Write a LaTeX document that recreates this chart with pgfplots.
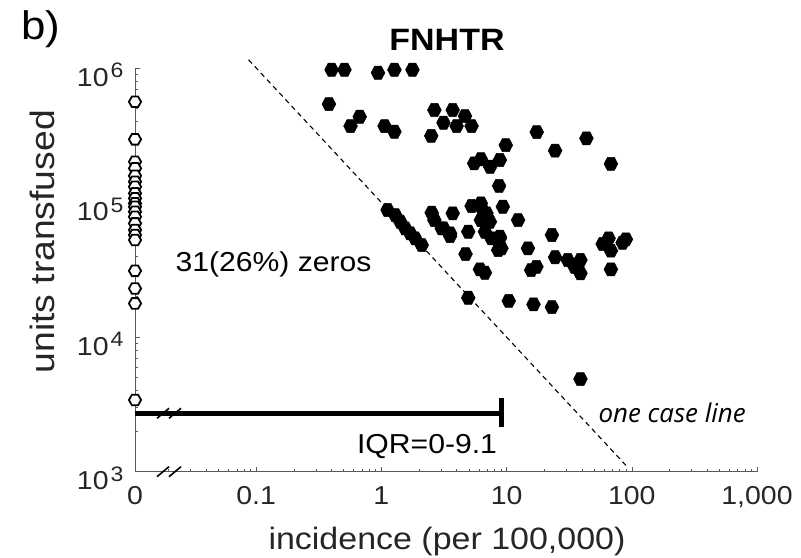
\documentclass[border=0pt]{standalone}
\usepackage{fontspec}
\setmainfont{Liberation Sans}[FakeStretch=1.1]
\newfontfamily\opensans{Open Sans}
\usepackage{pgfplots}
\pgfplotsset{compat=1.18}
\usepackage{pgfplotstable}

\definecolor{axgray}{RGB}{38,38,38}

% hexagon markers, pointed left and right
\pgfdeclareplotmark{hexf}{%
  \pgfpathmoveto{\pgfpoint{\pgfplotmarksize}{0pt}}%
  \pgfpathlineto{\pgfpoint{0.5\pgfplotmarksize}{0.95\pgfplotmarksize}}%
  \pgfpathlineto{\pgfpoint{-0.5\pgfplotmarksize}{0.95\pgfplotmarksize}}%
  \pgfpathlineto{\pgfpoint{-\pgfplotmarksize}{0pt}}%
  \pgfpathlineto{\pgfpoint{-0.5\pgfplotmarksize}{-0.95\pgfplotmarksize}}%
  \pgfpathlineto{\pgfpoint{0.5\pgfplotmarksize}{-0.95\pgfplotmarksize}}%
  \pgfpathclose
  \pgfusepathqfillstroke}
\pgfdeclareplotmark{hexo}{%
  \pgfpathmoveto{\pgfpoint{\pgfplotmarksize}{0pt}}%
  \pgfpathlineto{\pgfpoint{0.5\pgfplotmarksize}{0.866\pgfplotmarksize}}%
  \pgfpathlineto{\pgfpoint{-0.5\pgfplotmarksize}{0.866\pgfplotmarksize}}%
  \pgfpathlineto{\pgfpoint{-\pgfplotmarksize}{0pt}}%
  \pgfpathlineto{\pgfpoint{-0.5\pgfplotmarksize}{-0.866\pgfplotmarksize}}%
  \pgfpathlineto{\pgfpoint{0.5\pgfplotmarksize}{-0.866\pgfplotmarksize}}%
  \pgfpathclose
  \pgfusepathqfillstroke}

% hospitals with at least one case: incidence (per 100,000), units transfused
\pgfplotstableread{
x y
0.400 970000
0.507 970000
0.939 921000
1.27 970000
1.77 970000
0.381 539000
0.671 434000
0.567 370000
1.06 370000
1.27 336000
2.65 487000
3.71 487000
4.65 439000
3.13 392000
3.99 370000
5.25 370000
2.50 313000
17.4 334000
43.4 300000
24.4 243000
68.1 194000
9.85 267000
5.51 195500
6.23 210000
7.39 184500
8.83 207000
8.71 133000
5.25 94200
6.23 98600
6.91 83200
9.33 93100
12.35 74100
6.23 74100
3.71 83200
2.52 84000
2.65 74100
3.13 64300
3.54 56400
3.03 64300
3.54 59000
1.12 88000
1.29 80700
1.415 72000
1.55 64300
1.70 59000
1.86 54200
2.10 48300
4.94 60700
6.71 60700
7.57 54200
8.83 54200
8.56 44400
14.8 45700
4.70 41400
6.12 31900
6.71 30100
23.0 57400
24.4 39200
30.8 37400
38.9 37400
34.9 33300
38.9 29800
15.7 31500
17.3 33300
58.5 49200
65.3 54200
68.1 43900
89.7 53300
84.4 50300
68.1 31900
4.94 19600
10.4 18600
16.4 17500
23.0 16700
38.9 4880
6.29 91700
7.35 72000
8.83 55700
9.09 45700
}\cases

% hospitals with zero cases (plotted on the broken "0" position)
\pgfplotstableread{
x y
0.01076 561000
0.01076 295000
0.01076 201000
0.01076 179500
0.01076 158000
0.01076 142800
0.01076 131000
0.01076 117000
0.01076 107500
0.01076 98600
0.01076 93000
0.01076 85500
0.01076 78400
0.01076 70000
0.01076 62500
0.01076 57400
0.01076 52700
0.01076 31100
0.01076 23000
0.01076 17800
0.01076 3410
}\zeros

\newcommand{\pw}[1]{10\hspace{2bp}\raisebox{8.5bp}{\fontsize{21}{22}\selectfont #1}}

\begin{document}
\begin{tikzpicture}
\begin{axis}[
  at={(0,0)}, anchor=south west,
  scale only axis,
  width=622bp, height=403.7bp,
  xmode=log, ymode=log,
  xmin=0.01076, xmax=1000,
  ymin=1000, ymax=1000000,
  axis x line=bottom, axis y line=left,
  axis line style={-, draw=gray!70!black, line width=0.8bp},
  clip=false,
  tick align=inside,
  major tick length=5bp, minor tick length=3bp,
  every tick/.style={gray!70!black, line width=0.6bp},
  xtick={0.01076,0.1,1,10,100,1000},
  xticklabels={0,0.1,1,10,100,{1,000}},
  minor xtick={0.02,0.03,0.04,0.05,0.06,0.07,0.08,0.09,
    0.2,0.3,0.4,0.5,0.6,0.7,0.8,0.9,2,3,4,5,6,7,8,9,
    20,30,40,50,60,70,80,90,200,300,400,500,600,700,800,900},
  ytick={1000,10000,100000,1000000},
  yticklabels={\pw{3},\pw{4},\pw{5},\pw{6}},
  minor ytick={2000,3000,4000,5000,6000,7000,8000,9000,
    20000,30000,40000,50000,60000,70000,80000,90000,
    200000,300000,400000,500000,600000,700000,800000,900000},
  ticklabel style={font=\fontsize{26}{28}\selectfont, text=axgray},
  xticklabel style={yshift=-11bp},
  yticklabel style={xshift=-8bp, yshift=-6.7bp},
]
% one case line
\addplot[black, line width=1.1bp, dash pattern=on 5bp off 4bp] coordinates {(0.087,1149425) (92,1087)};
% IQR bar
\addplot[black, line width=5bp] coordinates {(0.01076,2716) (9.1,2716)};
\addplot[black, line width=5bp] coordinates {(9.1,2150) (9.1,3530)};
% cases
\addplot[only marks, mark=hexf, mark size=6.9bp,
  mark options={fill=black, draw=black, line width=0.5bp}] table[x=x,y=y] {\cases};
% zeros
\addplot[only marks, mark=hexo, mark size=6.1bp,
  mark options={fill=white, draw=black, line width=1.8bp}] table[x=x,y=y] {\zeros};
\end{axis}
% axis break marks
\foreach \yy in {0bp,58.4bp}{
  \draw[black, line width=1.6bp] (22bp,\yy-5bp) -- (34bp,\yy+5bp);
  \draw[black, line width=1.6bp] (34bp,\yy-5bp) -- (46bp,\yy+5bp);
}
\node[anchor=base west, font=\fontsize{40}{42}\selectfont] at (-117bp,431.7bp) {b)};
\node[anchor=base, font=\fontsize{31}{33}\selectfont\bfseries] at (312bp,420.7bp) {FNHTR};
\node[anchor=center, rotate=90, text=axgray, font=\fontsize{34}{36}\selectfont] at (-93bp,230bp) {units transfused};
\node[anchor=base, text=axgray, font=\fontsize{31}{33}\selectfont] at (312bp,-77.6bp) {incidence (per 100,000)};
\node[anchor=base west, font=\fontsize{27.5}{30}\selectfont] at (37bp,199.7bp) {31(26\%) zeros};
\node[anchor=base, font=\fontsize{27.5}{30}\selectfont] at (292bp,18.7bp) {IQR=0-9.1};
\node[anchor=base west, font=\opensans\itshape\fontsize{26}{28}\selectfont] at (460bp,48.7bp) {one case line};
\pgfresetboundingbox
\path (-135bp,-86.3bp) rectangle (666bp,471.7bp);
\end{tikzpicture}
\end{document}
